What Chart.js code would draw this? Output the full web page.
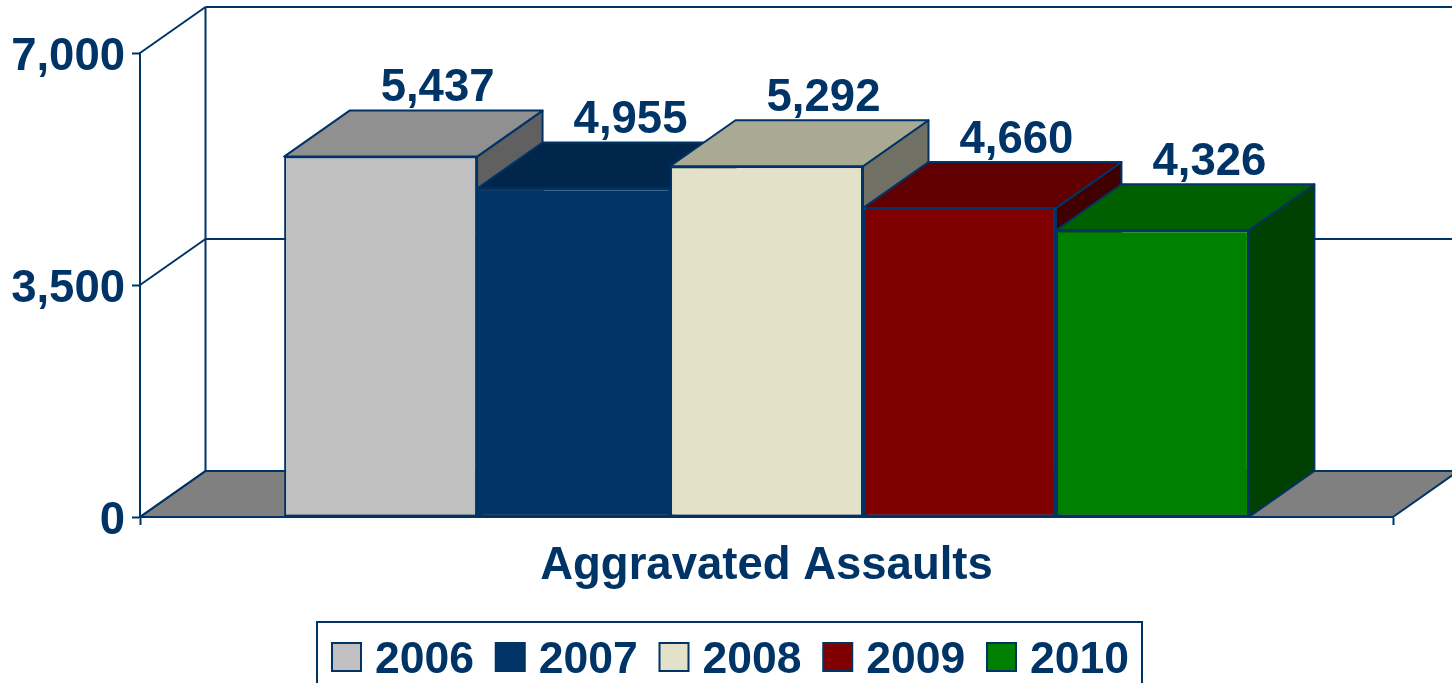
<!DOCTYPE html>
<html>
<head>
<meta charset="utf-8">
<style>html,body{margin:0;padding:0;background:#fff;overflow:hidden}canvas{display:block}</style>
<script src="https://cdn.jsdelivr.net/npm/chart.js@4/dist/chart.umd.min.js"></script>
</head>
<body>
<canvas id="c" width="1452" height="683"></canvas>
<script>
const categories = ['Aggravated Assaults'];
const years = ['2006', '2007', '2008', '2009', '2010'];
const assaults = [5437, 4955, 5292, 4660, 4326];
const frontColors = ['#C0C0C0', '#003366', '#E3E1C8', '#800000', '#008000'];
const topColors = ['#909090', '#00264C', '#AAA994', '#600000', '#006000'];
const sideColors = ['#606060', '#001A33', '#717064', '#400000', '#004000'];
const yTicks = [0, 3500, 7000];

const NAVY = '#003366';
const FAMILY = '"Liberation Sans", Arial, sans-serif';
const DX = 65.5, DY = -46;

function poly(ctx, pts, fill) {
  ctx.beginPath();
  pts.forEach((p, i) => i ? ctx.lineTo(p[0], p[1]) : ctx.moveTo(p[0], p[1]));
  ctx.closePath();
  if (fill) { ctx.fillStyle = fill; ctx.fill(); }
  ctx.stroke();
}
function line(ctx, x1, y1, x2, y2) {
  ctx.beginPath(); ctx.moveTo(x1, y1); ctx.lineTo(x2, y2); ctx.stroke();
}

const box3d = {
  id: 'box3d',
  beforeDatasetsDraw(chart) {
    const { ctx, chartArea: a, scales: { y } } = chart;
    ctx.save();
    ctx.strokeStyle = NAVY; ctx.lineWidth = 2; ctx.lineJoin = 'round';
    // floor, back wall and side wall
    const y0 = y.getPixelForValue(0);
    poly(ctx, [[a.left, y0], [a.left + DX, y0 + DY], [a.right + DX, y0 + DY], [a.right, y0]], '#808080');
    yTicks.forEach(t => {
      const p = y.getPixelForValue(t);
      line(ctx, a.left, p, a.left + DX, p + DY);
      line(ctx, a.left + DX, p + DY, a.right + DX, p + DY);
    });
    line(ctx, a.left + DX, y.getPixelForValue(7000) + DY, a.left + DX, y0 + DY);
    // side and top faces, left to right; the fronts come from Chart.js afterwards
    years.forEach((_, i) => {
      const b = chart.getDatasetMeta(i).data[0];
      const l = b.x - b.width / 2, r = b.x + b.width / 2;
      poly(ctx, [[r, b.y], [r + DX, b.y + DY], [r + DX, y0 + DY], [r, y0]], sideColors[i]);
      poly(ctx, [[l, b.y], [l + DX, b.y + DY], [r + DX, b.y + DY], [r, b.y]], topColors[i]);
    });
    ctx.restore();
  },
  afterDatasetsDraw(chart) {
    const { ctx } = chart;
    ctx.save();
    ctx.font = 'bold 45.5px ' + FAMILY; ctx.fillStyle = NAVY;
    ctx.textAlign = 'center'; ctx.textBaseline = 'middle';
    assaults.forEach((v, i) => {
      const b = chart.getDatasetMeta(i).data[0];
      ctx.fillText(v.toLocaleString('en-US'), b.x + 57, b.y - 68);
    });
    // legend
    ctx.strokeStyle = NAVY; ctx.lineWidth = 2;
    ctx.beginPath(); ctx.moveTo(317, 690); ctx.lineTo(317, 622); ctx.lineTo(1142, 622); ctx.lineTo(1142, 690); ctx.stroke();
    ctx.font = 'bold 44.5px ' + FAMILY;
    ctx.textAlign = 'left'; ctx.textBaseline = 'alphabetic';
    years.forEach((label, i) => {
      const x = 332 + 163.75 * i;
      ctx.fillStyle = frontColors[i];
      ctx.fillRect(x, 643, 29, 28);
      ctx.strokeRect(x, 643, 29, 28);
      ctx.fillStyle = NAVY;
      ctx.fillText(label, x + 43, 673);
    });
    ctx.restore();
  }
};

new Chart(document.getElementById('c'), {
  type: 'bar',
  data: {
    labels: categories,
    datasets: years.map((label, i) => ({
      label,
      data: [assaults[i]],
      backgroundColor: frontColors[i],
      borderColor: NAVY,
      borderWidth: 2,
      borderSkipped: false
    }))
  },
  options: {
    responsive: false,
    animation: false,
    layout: { padding: { left: 0, top: 53, right: 59, bottom: 0 } },
    categoryPercentage: 0.77,
    barPercentage: 1,
    plugins: { legend: { display: false }, tooltip: { enabled: false }, title: { display: false } },
    scales: {
      x: {
        offset: true,
        afterFit: s => { s.height = 166; },
        border: { display: true, color: NAVY, width: 2 },
        grid: { offset: true, drawOnChartArea: false, drawTicks: true, tickLength: 8, tickWidth: 2, tickColor: NAVY, color: NAVY },
        ticks: { color: NAVY, font: { family: FAMILY, size: 45.5, weight: 'bold' }, padding: 14, maxRotation: 0 }
      },
      y: {
        min: 0, max: 7000,
        afterFit: s => { s.width = 140; },
        afterBuildTicks: s => { s.ticks = yTicks.map(value => ({ value })); },
        border: { display: true, color: NAVY, width: 2 },
        grid: { drawOnChartArea: false, drawTicks: true, tickLength: 8, tickWidth: 2, tickColor: NAVY, color: NAVY },
        ticks: {
          color: NAVY, padding: 7, labelOffset: 4,
          font: { family: FAMILY, size: 45.5, weight: 'bold' },
          callback: v => Number(v).toLocaleString('en-US')
        }
      }
    }
  },
  plugins: [box3d]
});
</script>
</body>
</html>
